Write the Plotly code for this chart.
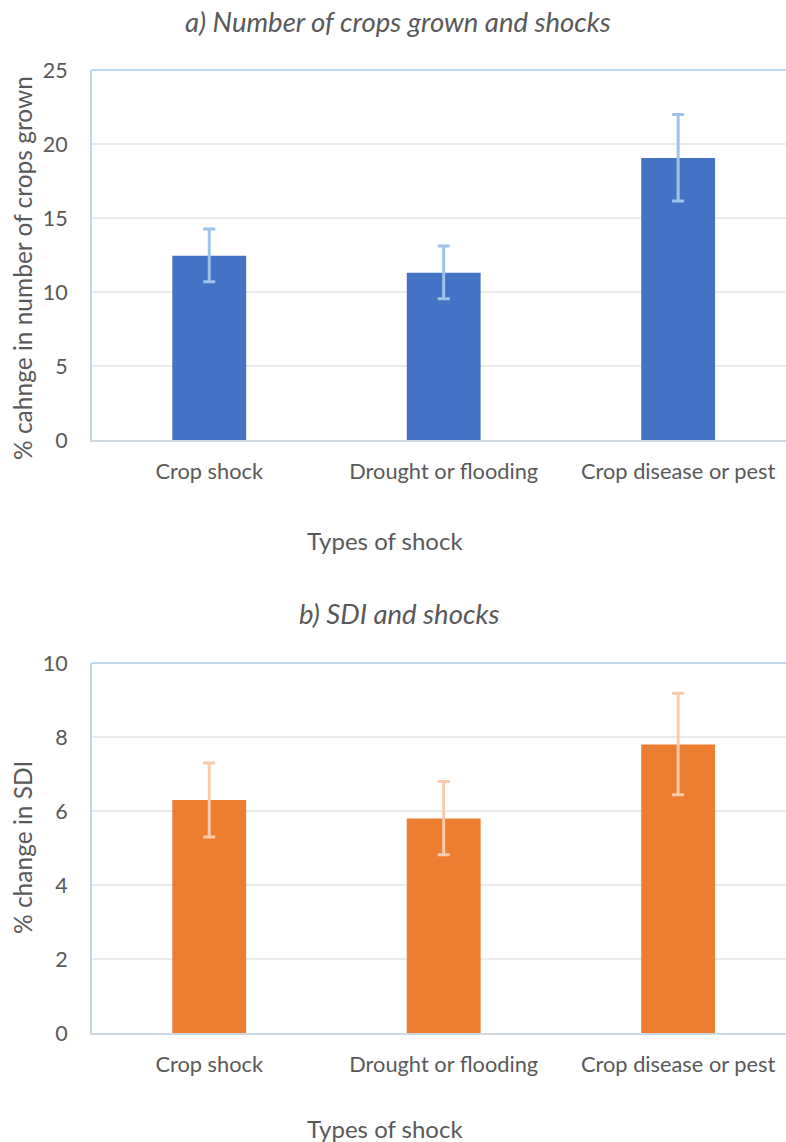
import plotly.graph_objects as go
from plotly.subplots import make_subplots

# Shock categories shared by both panels
shock_types = ["Crop shock", "Drought or flooding", "Crop disease or pest"]

# Panel a: % change in number of crops grown
crops_change = [12.45, 11.3, 19.05]
crops_err_plus = [1.8, 1.8, 2.95]
crops_err_minus = [1.75, 1.75, 2.9]

# Panel b: % change in SDI
sdi_change = [6.3, 5.8, 7.8]
sdi_err_plus = [1.0, 1.0, 1.38]
sdi_err_minus = [1.0, 0.98, 1.36]

crops_ticks = [0, 5, 10, 15, 20, 25]
sdi_ticks = [0, 2, 4, 6, 8, 10]

W, H = 786, 1142
L = 92
FONT = "Lato"
TXT = "#595959"

fig = make_subplots(rows=2, cols=1)

fig.add_trace(go.Bar(
    x=shock_types, y=crops_change, width=0.315,
    marker=dict(color="#4472C4", line=dict(width=0)),
    error_y=dict(type="data", symmetric=False, array=crops_err_plus,
                 arrayminus=crops_err_minus, color="#9DC3E6",
                 thickness=3, width=6),
), row=1, col=1)

fig.add_trace(go.Bar(
    x=shock_types, y=sdi_change, width=0.315,
    marker=dict(color="#ED7D31", line=dict(width=0)),
    error_y=dict(type="data", symmetric=False, array=sdi_err_plus,
                 arrayminus=sdi_err_minus, color="#F8CBAD",
                 thickness=3, width=6),
), row=2, col=1)


def ydom(top_px, bottom_px):
    return [(H - bottom_px) / H, (H - top_px) / H]


xcommon = dict(
    range=[-0.5, 2.46], showgrid=False, showline=True, linecolor="#D0D8E2",
    linewidth=2, ticks="", tickfont=dict(family=FONT, size=21.8, color=TXT),
    ticklabelstandoff=11, zeroline=False, automargin=False,
)
ycommon = dict(
    showgrid=True, gridcolor="#EBEBEB", gridwidth=1.5, showline=True,
    linecolor="#BDD7EE", linewidth=2, ticks="", zeroline=False,
    tickfont=dict(family=FONT, size=21.5, color=TXT), ticklabelstandoff=18,
    automargin=False,
)

fig.update_xaxes(**xcommon, row=1, col=1)
fig.update_xaxes(**xcommon, row=2, col=1)
fig.update_yaxes(**ycommon, range=[0, 25], tickvals=crops_ticks,
                 domain=ydom(70, 440), row=1, col=1)
fig.update_yaxes(**ycommon, range=[0, 10], tickvals=sdi_ticks,
                 domain=ydom(663, 1033), row=2, col=1)

# Top frame line of each plot area
for top in (70, 663):
    fig.add_shape(type="line", xref="paper", yref="paper",
                  x0=0, x1=1, y0=(H - top) / H, y1=(H - top) / H,
                  line=dict(color="#BDD7EE", width=2))


def px_x(px):
    return (px - L) / (W - L)


def px_y(py):
    return (H - py) / H


annos = [
    ("<i>a) Number of crops grown and shocks</i>", 398, 22, 0, 27.5),
    ("<i>b) SDI and shocks</i>", 399, 614, 0, 27.5),
    ("Types of shock", 385, 540, 0, 24),
    ("Types of shock", 385, 1128, 0, 24),
    ("% cahnge in number of crops grown", 22, 268, -90, 24.5),
    ("% change in SDI", 22, 848, -90, 24.5),
]
for text, x, y, ang, size in annos:
    fig.add_annotation(text=text, xref="paper", yref="paper",
                       x=px_x(x), y=px_y(y), showarrow=False,
                       textangle=ang, xanchor="center", yanchor="middle",
                       font=dict(family=FONT, size=size, color=TXT))

fig.update_layout(
    width=W, height=H, margin=dict(l=L, r=0, t=0, b=0, autoexpand=False),
    paper_bgcolor="white", plot_bgcolor="white", showlegend=False,
    bargap=0.685,
)

fig.write_html("out.html")
